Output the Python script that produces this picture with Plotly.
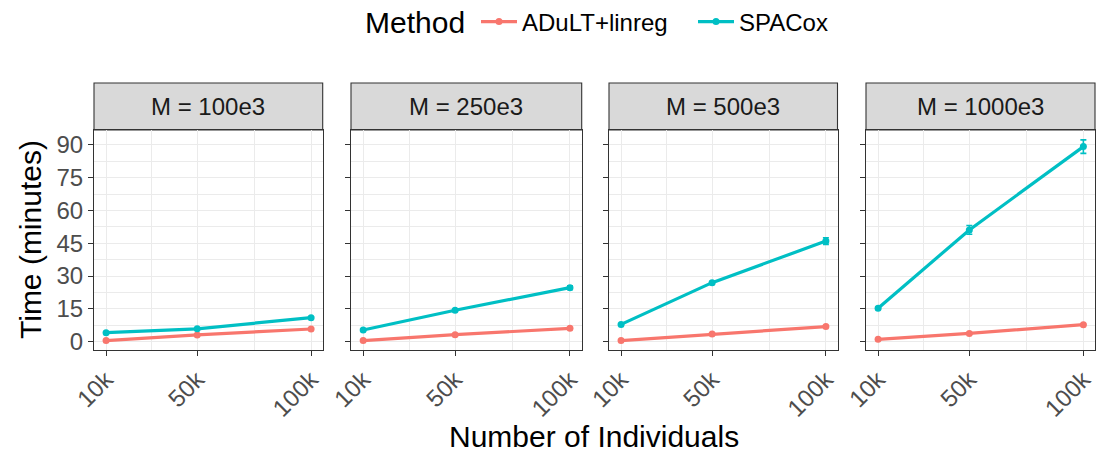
import plotly.graph_objects as go

# ---- data ----
n_individuals = [10, 50, 100]            # thousands
x_tick_labels = ["10k", "50k", "100k"]
panel_labels = ["M = 100e3", "M = 250e3", "M = 500e3", "M = 1000e3"]

adult_time = [
    [0.5, 3.1, 5.8],
    [0.5, 3.2, 6.1],
    [0.5, 3.5, 6.9],
    [1.1, 3.8, 7.8],
]
adult_err = [
    [0.05, 0.1, 0.1],
    [0.05, 0.1, 0.1],
    [0.05, 0.1, 0.15],
    [0.05, 0.1, 0.15],
]
spacox_time = [
    [4.1, 5.9, 11.0],
    [5.35, 14.4, 24.7],
    [7.9, 27.0, 46.0],
    [15.3, 51.1, 89.2],
]
spacox_err = [
    [0.2, 0.2, 0.4],
    [0.3, 0.4, 0.8],
    [0.3, 0.5, 1.5],
    [0.5, 2.0, 3.1],
]
methods = ["ADuLT+linreg", "SPACox"]
colors = ["#F8766D", "#00BFC4"]
y_ticks = [0, 15, 30, 45, 60, 75, 90]

# ---- layout geometry (pixels) ----
W, H = 1112, 452
ml, mr, mt, mb = 94, 17, 83, 102
pw = W - ml - mr
ph = H - mt - mb
panel_px = [(94, 322.7), (351, 581.7), (609, 837.5), (866, 1095)]
panel_top_px = 130
panel_dom_top = (H - mb - panel_top_px) / ph
FONT = "Liberation Sans, Arial"


def px2x(p):
    return (p - ml) / pw


fig = go.Figure()
layout_axes = {}
shapes = []
annotations = []

for i in range(4):
    sfx = "" if i == 0 else str(i + 1)
    xa, ya = "x" + sfx, "y" + sfx
    for m, (vals, errs) in enumerate([(adult_time[i], adult_err[i]),
                                       (spacox_time[i], spacox_err[i])]):
        fig.add_trace(go.Scatter(
            x=n_individuals, y=vals, xaxis=xa, yaxis=ya,
            mode="lines+markers", name=methods[m],
            legendgroup=methods[m], showlegend=(i == 0),
            line=dict(color=colors[m], width=3.2),
            marker=dict(color=colors[m], size=7),
            error_y=dict(type="data", array=errs, color=colors[m],
                         thickness=1.6, width=3),
        ))
    d0, d1 = px2x(panel_px[i][0]), px2x(panel_px[i][1])
    layout_axes["xaxis" + sfx] = dict(
        domain=[d0, d1], anchor=ya, range=[4.7, 105.1], automargin=False,
        tickmode="array", tickvals=n_individuals, ticktext=x_tick_labels,
        tickangle=-45, ticks="outside", ticklen=5, tickwidth=1.1,
        tickcolor="#333333",
        tickfont=dict(family=FONT, size=24, color="#4D4D4D"),
        showgrid=True, gridcolor="#EBEBEB", gridwidth=1.3,
        minor=dict(tickmode="array", tickvals=[30, 75], showgrid=True,
                   gridcolor="#EBEBEB", gridwidth=0.7, ticks=""),
        showline=True, mirror=True, linecolor="#333333", linewidth=1.1,
        zeroline=False,
    )
    layout_axes["yaxis" + sfx] = dict(
        domain=[0, panel_dom_top], anchor=xa, range=[-3.8, 96.8],
        automargin=False,
        tickmode="array", tickvals=y_ticks, showticklabels=(i == 0),
        ticks="outside", ticklen=5, tickwidth=1.1, tickcolor="#333333",
        tickfont=dict(family=FONT, size=24, color="#4D4D4D"),
        showgrid=True, gridcolor="#EBEBEB", gridwidth=1.3,
        minor=dict(dtick=7.5, tick0=0, showgrid=True, gridcolor="#EBEBEB",
                   gridwidth=0.7, ticks=""),
        showline=True, mirror=True, linecolor="#333333", linewidth=1.1,
        zeroline=False,
    )
    shapes.append(dict(type="rect", xref="paper", yref="paper",
                       x0=d0, x1=d1, y0=panel_dom_top, y1=1.0,
                       fillcolor="#D9D9D9",
                       line=dict(color="#333333", width=1.1), layer="below"))
    annotations.append(dict(text=panel_labels[i], xref="paper", yref="paper",
                            x=(d0 + d1) / 2, y=(panel_dom_top + 1) / 2,
                            showarrow=False, xanchor="center", yanchor="middle",
                            font=dict(family=FONT, size=24, color="#1A1A1A")))

# axis titles
annotations.append(dict(text="Number of Individuals", xref="paper", yref="paper",
                        x=px2x(594), y=(H - mb - 436) / ph, showarrow=False,
                        xanchor="center", yanchor="middle",
                        font=dict(family=FONT, size=30, color="black")))
annotations.append(dict(text="Time (minutes)", xref="paper", yref="paper",
                        x=px2x(30), y=(H - mb - 240) / ph, showarrow=False,
                        textangle=-90, xanchor="center", yanchor="middle",
                        font=dict(family=FONT, size=30, color="black")))
# legend title
annotations.append(dict(text="Method", xref="paper", yref="paper",
                        x=px2x(363), y=(H - mb - 22) / ph, showarrow=False,
                        xanchor="left", yanchor="middle",
                        font=dict(family=FONT, size=30, color="black")))

fig.update_layout(
    width=W, height=H,
    margin=dict(l=ml, r=mr, t=mt, b=mb, autoexpand=False),
    plot_bgcolor="white", paper_bgcolor="white",
    font=dict(family=FONT, color="black"),
    shapes=shapes, annotations=annotations,
    legend=dict(orientation="h", xref="container", yref="container",
                x=476 / W, xanchor="left",
                y=1 - 22 / H, yanchor="middle",
                font=dict(size=24, family=FONT),
                itemwidth=36, entrywidth=166, entrywidthmode="pixels",
                bgcolor="rgba(0,0,0,0)"),
    **layout_axes,
)

fig.write_html(
    "out.html",
    config={"displayModeBar": False},
    post_script="document.body.style.margin='0';document.body.style.padding='0';",
)
